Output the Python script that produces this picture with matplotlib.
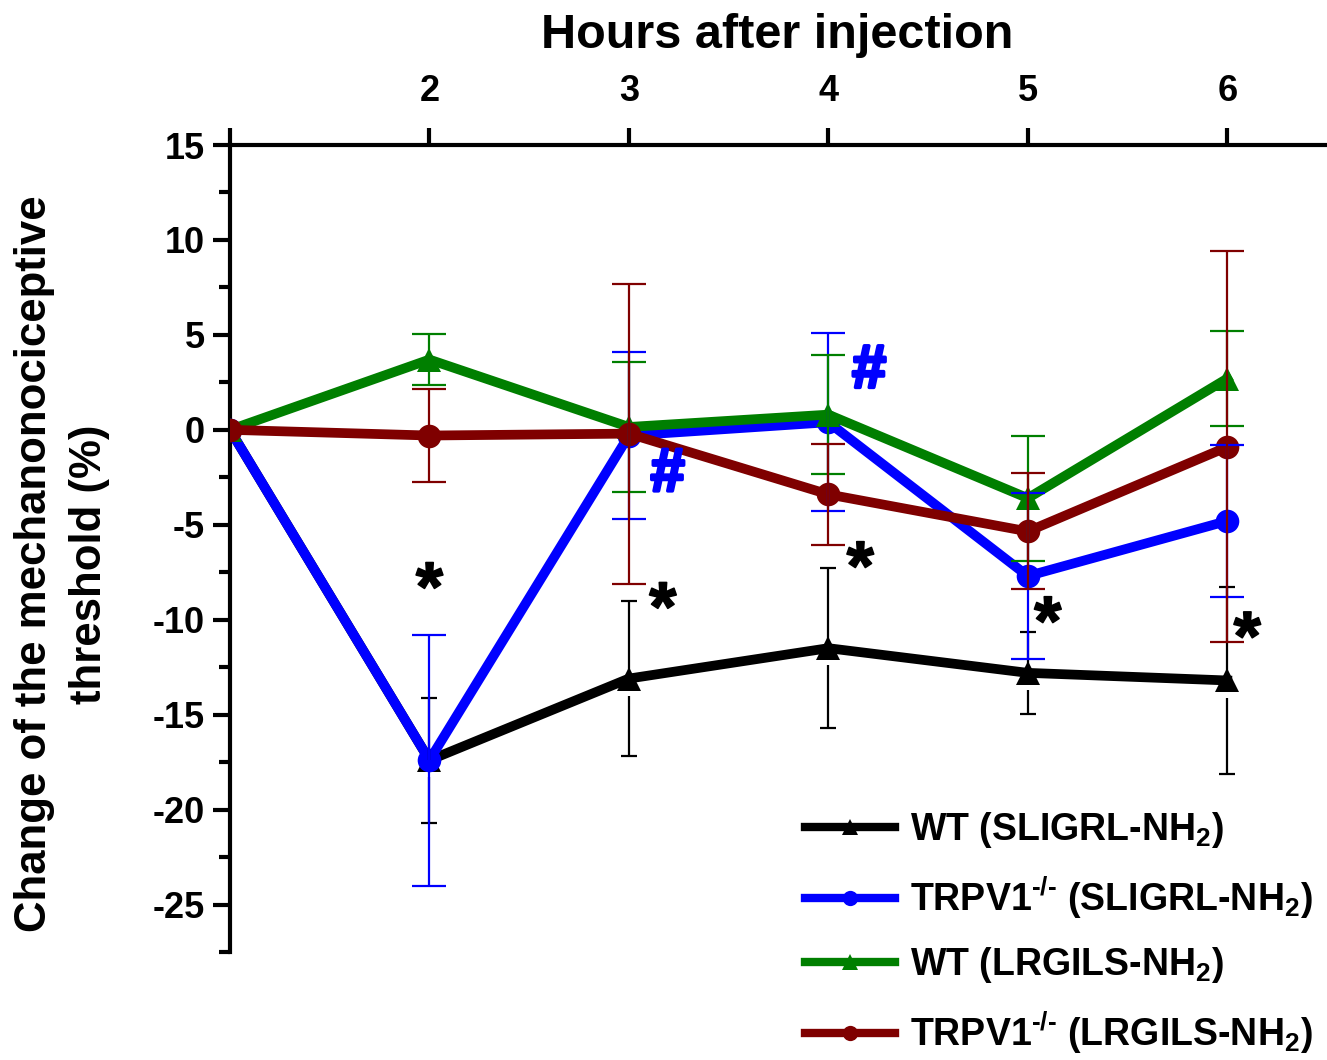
import matplotlib
matplotlib.use("Agg")
import matplotlib.pyplot as plt
import matplotlib.patheffects as pe
from matplotlib.ticker import MultipleLocator, FixedLocator
from matplotlib.lines import Line2D

plt.rcParams['font.family'] = ['Liberation Sans', 'DejaVu Sans']
plt.rcParams['font.weight'] = 'bold'
plt.rcParams['axes.unicode_minus'] = False
plt.rcParams['mathtext.fontset'] = 'custom'
plt.rcParams['mathtext.rm'] = 'Liberation Sans:bold'
plt.rcParams['mathtext.it'] = 'Liberation Sans:bold'
plt.rcParams['mathtext.bf'] = 'Liberation Sans:bold'
plt.rcParams['mathtext.default'] = 'bf'

hours = [1, 2, 3, 4, 5, 6]

wt_sligrl = [0, -17.4, -13.1, -11.5, -12.8, -13.2]
wt_sligrl_err = [0, 3.3, 4.1, 4.2, 2.15, 4.9]

ko_sligrl = [0, -17.4, -0.3, 0.4, -7.7, -4.8]
ko_sligrl_err = [0, 6.6, 4.4, 4.7, 4.35, 4.0]

wt_lrgils = [0, 3.7, 0.15, 0.8, -3.6, 2.7]
wt_lrgils_err = [0, 1.35, 3.4, 3.15, 3.3, 2.5]

ko_lrgils = [0, -0.3, -0.2, -3.4, -5.35, -0.9]
ko_lrgils_err = [0, 2.45, 7.9, 2.65, 3.05, 10.3]

series_labels = [r'WT (SLIGRL-NH$_2$)', r'TRPV1$^{\text{-/-}}$ (SLIGRL-NH$_2$)',
                 r'WT (LRGILS-NH$_2$)', r'TRPV1$^{\text{-/-}}$ (LRGILS-NH$_2$)']
series_colors = ['black', '#0000ff', '#007f00', '#7f0000']
series_markers = ['^', 'o', '^', 'o']

star_marks = [(2.0, -7.9), (3.17, -8.95), (4.16, -6.8), (5.1, -9.7), (6.1, -10.5)]
hash_marks = [(3.19, -2.4), (4.2, 3.05)]

x_ticks = [1, 2, 3, 4, 5, 6]
x_tick_labels = ['', '2', '3', '4', '5', '6']
y_ticks = [15, 10, 5, 0, -5, -10, -15, -20, -25]

fig = plt.figure(figsize=(13.27, 10.6), dpi=100)
ax = fig.add_axes([0.1733, 0.1019, 0.8267, 0.7613])

values = [wt_sligrl, ko_sligrl, wt_lrgils, ko_lrgils]
errors = [wt_sligrl_err, ko_sligrl_err, wt_lrgils_err, ko_lrgils_err]

for i, (vals, col, mk) in enumerate(zip(values, series_colors, series_markers)):
    ax.plot(hours, vals, color=col, lw=7, marker=mk, markersize=17,
            markeredgewidth=0, zorder=3 + i)

# error bars; the WT (SLIGRL) bars leave a small gap under the triangle
GAP = 0.9
for i, (vals, errs, col) in enumerate(zip(values, errors, series_colors)):
    xs, ys, es = hours[1:], vals[1:], errs[1:]
    if i == 0:
        ax.vlines(xs, ys, [y + e for y, e in zip(ys, es)], color=col,
                  lw=1.6, zorder=8 + i)
        ax.vlines(xs, [y - e for y, e in zip(ys, es)], [y - GAP for y in ys],
                  color=col, lw=1.6, zorder=8 + i)
        ax.plot(xs, [y + e for y, e in zip(ys, es)], ls='none', marker='_',
                ms=12, mew=1.6, color=col, zorder=8 + i)
        ax.plot(xs, [y - e for y, e in zip(ys, es)], ls='none', marker='_',
                ms=12, mew=1.6, color=col, zorder=8 + i)
    else:
        ax.errorbar(xs, ys, yerr=es, fmt='none', ecolor=col,
                    elinewidth=1.6, capsize=12, capthick=1.6, zorder=8 + i)

for x, y in star_marks:
    ax.annotate('*', (x, y), xytext=(0, -9), textcoords='offset points',
                fontsize=50, fontweight='bold', color='black',
                ha='center', va='center', zorder=20,
                path_effects=[pe.withStroke(linewidth=1.2, foreground='black')])
for x, y in hash_marks:
    ax.annotate('#', (x, y), xytext=(0, 0), textcoords='offset points',
                fontsize=44, fontweight='bold', fontstyle='italic',
                color='#0000ff', ha='center', va='center', zorder=20,
                path_effects=[pe.withStroke(linewidth=2.5, foreground='#0000ff')])

ax.set_xlim(1, 6.5)
ax.set_ylim(-27.5, 15)

ax.spines['right'].set_visible(False)
ax.spines['bottom'].set_visible(False)
ax.spines['left'].set_linewidth(3)
ax.spines['top'].set_linewidth(3)

ax.xaxis.tick_top()
ax.xaxis.set_major_locator(FixedLocator(x_ticks))
ax.set_xticklabels(x_tick_labels)
ax.xaxis.set_minor_locator(MultipleLocator(0.5))
ax.tick_params(axis='x', which='major', direction='out', length=12, width=3,
               pad=14, labelsize=26, top=True, bottom=False)
ax.tick_params(axis='x', which='minor', direction='out', length=1.5, width=3,
               top=True, bottom=False)

ax.yaxis.set_major_locator(FixedLocator(y_ticks))
ax.yaxis.set_minor_locator(MultipleLocator(2.5))
ax.tick_params(axis='y', which='major', direction='out', length=12, width=3,
               pad=6, labelsize=26)
ax.tick_params(axis='y', which='minor', direction='out', length=8, width=3)
for lab in ax.get_xticklabels() + ax.get_yticklabels():
    lab.set_fontweight('bold')

fig.text(777 / 1327, 1 - 35 / 1060, 'Hours after injection', fontsize=35,
         fontweight='bold', ha='center', va='center')
fig.text(35 / 1327, 1 - 564 / 1060, 'Change of the mechanonociceptive',
         fontsize=31.5, fontweight='bold', rotation=90, ha='center', va='center')
fig.text(90 / 1327, 1 - 564 / 1060, 'threshold (%)',
         fontsize=31.5, fontweight='bold', rotation=90, ha='center', va='center')

handles = [Line2D([], [], color=c, lw=6, marker=m, markersize=11, markeredgewidth=0)
           for c, m in zip(series_colors, series_markers)]
fig.legend(handles, series_labels, loc='upper left',
           bbox_to_anchor=(805 / 1327, 1 - 810 / 1060), frameon=False,
           fontsize=27, handlelength=2.4, handletextpad=0.4, labelspacing=0.65,
           borderpad=0, borderaxespad=0)

fig.savefig('out.png', dpi=100)
